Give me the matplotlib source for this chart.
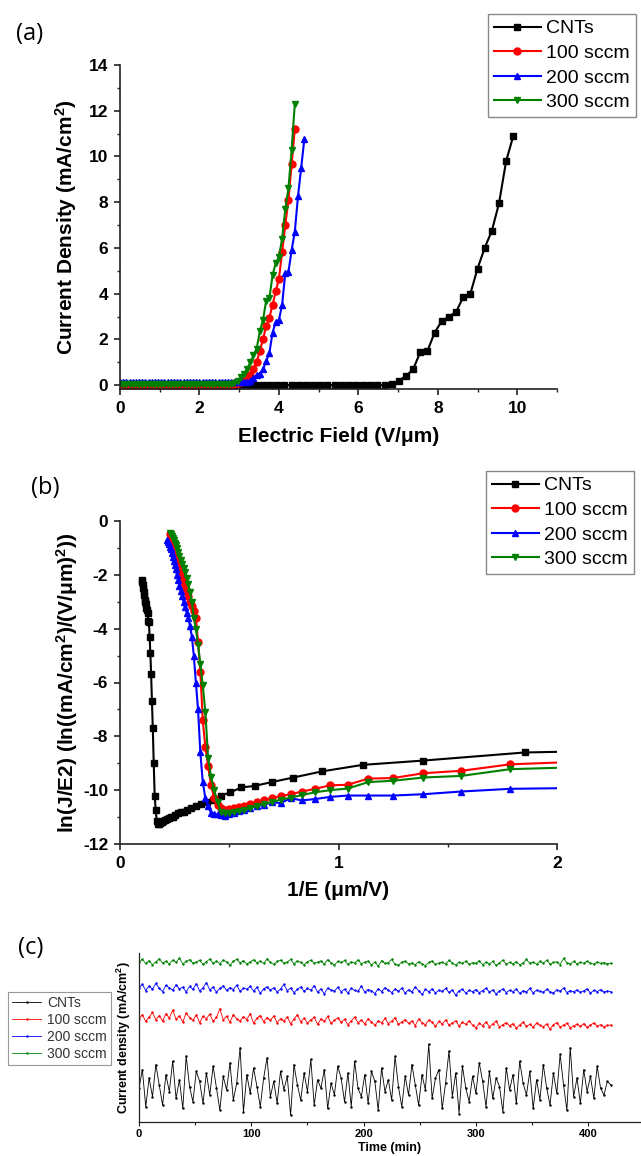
import numpy as np
import matplotlib.pyplot as plt
import matplotlib.font_manager as fm
from matplotlib.ticker import MultipleLocator, NullLocator


def bold_path():
    # pick an Arial-like bold face by file, so the weight is really used
    for name in ['Liberation Sans', 'Arimo', 'Roboto', 'Open Sans', 'Noto Sans', 'Lato']:
        for f in fm.fontManager.ttflist:
            w = f.weight if isinstance(f.weight, int) else fm.weight_dict.get(f.weight, 400)
            if f.name == name and 650 <= w <= 750 and f.style == 'normal':
                return f.fname
    return fm.findfont(fm.FontProperties(family='DejaVu Sans', weight='bold'))


BOLD = bold_path()


def bf(size):
    return fm.FontProperties(fname=BOLD, size=size)


plt.rcParams['font.family'] = ['Liberation Sans', 'DejaVu Sans']
plt.rcParams['mathtext.default'] = 'regular'
plt.rcParams['axes.unicode_minus'] = False

# ---- (a) J-E data ----
E_cnt = np.round(np.arange(0, 9.91, 0.18), 2)
J_cnt = [0.0] * 38 + [0.05, 0.2, 0.4, 0.7, 1.45, 1.5, 2.3, 2.8, 3.0, 3.2,
                      3.85, 4.0, 5.1, 6.0, 6.75, 7.95, 9.8, 10.9]
E_100 = np.round(np.arange(0, 4.41, 0.08), 2)
J_100 = [0.02] * 36 + [0.05, 0.08, 0.12, 0.2, 0.3, 0.45, 0.7, 1.0, 1.5, 2.0,
                       2.6, 2.95, 3.5, 4.1, 4.65, 5.8, 7.0, 8.1, 9.65, 11.2]
E_200 = np.round(np.arange(0, 4.65, 0.08), 2)
J_200 = [0.15] * 40 + [0.15, 0.2, 0.3, 0.45, 0.5, 0.7, 1.05, 1.4, 2.3, 2.75,
                       2.85, 3.5, 4.9, 4.95, 5.9, 6.7, 8.25, 9.5, 10.75]
E_300 = np.round(np.arange(0, 4.41, 0.08), 2)
J_300 = [0.03] * 35 + [0.06, 0.1, 0.2, 0.35, 0.5, 0.7, 1.0, 1.3, 1.6, 2.35, 2.85,
                       3.7, 3.8, 4.8, 5.35, 5.6, 6.4, 7.7, 8.6, 10.3, 12.3]

# ---- (b) F-N data, ln(J/E^2), field ascending ----
ln_cnt = [-8.45, -8.60, -8.90, -9.06, -9.30, -9.53, -9.70, -9.84, -9.90, -10.08,
          -10.20, -10.38, -10.45, -10.52, -10.58, -10.65, -10.72, -10.80, -10.82, -10.86,
          -10.92, -11.00, -11.01, -11.03, -11.06, -11.10, -11.14, -11.18, -11.22, -11.25,
          -11.25, -11.15, -10.75, -10.20, -9.00, -7.70, -6.70, -5.70, -4.90, -4.30,
          -3.75, -3.70, -3.40, -3.30, -3.25, -3.10, -3.00, -2.95, -2.75, -2.62,
          -2.50, -2.37, -2.27, -2.20]
ln_100 = [-8.95, -9.04, -9.28, -9.37, -9.55, -9.57, -9.80, -9.82, -9.95, -10.05,
          -10.15, -10.22, -10.30, -10.38, -10.45, -10.52, -10.58, -10.63, -10.67,
          -10.70, -10.72, -10.68, -10.55, -10.30, -9.80, -9.10, -8.40, -7.40, -5.60, -4.50,
          -3.60, -3.35, -3.15, -3.00, -2.80, -2.60, -2.45, -2.30, -2.15, -2.00,
          -1.85, -1.70, -1.55, -1.40, -1.25, -1.10, -0.95, -0.80, -0.65, -0.50]
ln_200 = [-9.92, -9.95, -10.05, -10.15, -10.20, -10.20, -10.20, -10.25, -10.33, -10.38,
          -10.30, -10.48, -10.45, -10.55, -10.60, -10.65, -10.72, -10.78, -10.85,
          -10.90, -10.95, -10.92, -10.90, -10.90, -10.85, -10.60, -10.30, -9.70, -8.60, -7.00,
          -6.00, -5.00, -4.30, -3.90, -3.60, -3.40, -3.20, -3.00, -2.80, -2.60,
          -2.40, -2.20, -2.00, -1.80, -1.65, -1.50, -1.35, -1.20, -1.05, -0.95,
          -0.85, -0.78, -0.70]
ln_300 = [-9.15, -9.22, -9.47, -9.53, -9.65, -9.70, -9.94, -10.00, -10.08, -10.18,
          -10.28, -10.35, -10.45, -10.52, -10.60, -10.68, -10.74, -10.78, -10.82,
          -10.85, -10.85, -10.80, -10.45, -10.00, -9.50, -8.80, -7.10, -6.10, -5.30, -4.60,
          -4.00, -3.60, -3.00, -2.65, -2.35, -2.10, -1.90, -1.75, -1.60, -1.45,
          -1.30, -1.15, -1.00, -0.90, -0.80, -0.70, -0.62, -0.55, -0.50, -0.45]

# ---- (c) stability data ----
t = np.arange(0, 421, 3)
s_300 = [9.45, 9.62, 9.38, 9.55, 9.30, 9.48, 9.66, 9.41, 9.52, 9.35,
         9.58, 9.44, 9.70, 9.36, 9.50, 9.61, 9.39, 9.47, 9.57, 9.32,
         9.49, 9.64, 9.40, 9.53, 9.37, 9.59, 9.46, 9.28, 9.51, 9.63,
         9.42, 9.55, 9.34, 9.48, 9.60, 9.43, 9.52, 9.38, 9.66, 9.45,
         9.33, 9.50, 9.58, 9.40, 9.47, 9.62, 9.36, 9.54, 9.44, 9.31,
         9.49, 9.57, 9.39, 9.46, 9.53, 9.35, 9.61, 9.42, 9.29, 9.50,
         9.44, 9.56, 9.33, 9.48, 9.40, 9.59, 9.37, 9.45, 9.52, 9.30,
         9.47, 9.22, 9.55, 9.38, 9.43, 9.62, 9.34, 9.28, 9.46, 9.51,
         9.36, 9.42, 9.30, 9.49, 9.37, 9.25, 9.44, 9.53, 9.32, 9.40,
         9.47, 9.35, 9.56, 9.41, 9.29, 9.46, 9.38, 9.52, 9.33, 9.43,
         9.39, 9.55, 9.31, 9.45, 9.37, 9.50, 9.27, 9.42, 9.58, 9.34,
         9.44, 9.36, 9.49, 9.30, 9.41, 9.62, 9.38, 9.46, 9.33, 9.51,
         9.40, 9.57, 9.35, 9.44, 9.48, 9.31, 9.68, 9.42, 9.37, 9.50,
         9.36, 9.45, 9.39, 9.52, 9.41, 9.34, 9.47, 9.38, 9.43, 9.36, 9.40]
s_200 = [7.92, 8.15, 7.78, 8.05, 7.85, 8.20, 7.90, 7.72, 8.08, 7.95,
         7.80, 8.12, 7.88, 7.98, 7.70, 8.02, 7.85, 8.18, 7.76, 7.94,
         8.25, 7.82, 7.99, 7.68, 7.91, 8.06, 7.79, 7.95, 7.84, 8.10,
         7.73, 7.92, 7.86, 8.03, 7.75, 7.97, 7.62, 7.88, 8.00, 7.81,
         7.94, 7.70, 7.87, 8.14, 7.78, 7.92, 7.66, 7.85, 7.99, 7.74,
         7.90, 7.80, 8.06, 7.69, 7.88, 7.58, 7.93, 7.82, 7.75, 7.97,
         7.71, 7.86, 7.64, 7.91, 7.79, 7.73, 8.05, 7.68, 7.84, 7.77,
         7.60, 7.89, 7.72, 7.95, 7.81, 7.66, 7.87, 7.74, 7.92, 7.63,
         7.83, 7.70, 7.98, 7.76, 7.55, 7.85, 7.71, 7.88, 7.64, 7.79,
         7.73, 7.90, 7.67, 7.82, 7.50, 7.77, 7.86, 7.62, 7.80, 7.71,
         7.84, 7.65, 7.78, 7.92, 7.69, 7.81, 7.58, 7.75, 7.88, 7.66,
         7.79, 7.72, 7.86, 7.61, 7.76, 7.70, 7.90, 7.64, 7.80, 7.73,
         7.68, 7.85, 7.71, 7.62, 7.83, 7.74, 7.93, 7.66, 7.78, 7.70,
         7.82, 7.67, 7.76, 7.88, 7.63, 7.79, 7.72, 7.84, 7.69, 7.75, 7.72]
s_100 = [6.10, 6.35, 5.95, 6.22, 6.48, 6.05, 6.30, 5.98, 6.40, 6.15,
         6.62, 6.08, 6.28, 5.92, 6.45, 6.18, 6.02, 6.33, 5.88, 6.25,
         6.12, 6.38, 5.96, 6.20, 6.70, 6.04, 6.26, 5.90, 6.36, 6.10,
         5.98, 6.24, 6.06, 6.42, 5.85, 6.15, 6.30, 5.94, 6.18, 6.02,
         6.28, 5.88, 6.12, 5.97, 6.22, 5.82, 6.08, 6.35, 5.92, 6.14,
         5.86, 6.05, 6.20, 5.78, 6.10, 5.95, 6.26, 5.84, 6.02, 6.16,
         5.90, 6.08, 5.76, 5.98, 6.20, 5.88, 6.04, 5.80, 6.12, 5.94,
         5.72, 6.00, 5.86, 6.14, 5.82, 5.96, 6.18, 5.78, 5.92, 6.06,
         5.84, 5.98, 5.70, 6.10, 5.88, 5.76, 6.02, 5.90, 5.66, 5.95,
         5.80, 6.04, 5.74, 5.86, 5.98, 5.68, 5.90, 5.78, 6.00, 5.72,
         5.58, 5.84, 5.70, 5.92, 5.64, 5.80, 5.96, 5.62, 5.76, 5.88,
         5.70, 5.82, 5.56, 5.74, 5.90, 5.66, 5.78, 5.60, 5.86, 5.72,
         5.64, 5.80, 5.50, 5.76, 5.88, 5.62, 5.74, 5.84, 5.58, 5.70,
         5.78, 5.66, 5.82, 5.60, 5.74, 5.86, 5.68, 5.76, 5.64, 5.72, 5.74]
s_cnt = [2.0, 3.1, 0.9, 2.6, 1.5, 3.4, 2.2, 1.0, 2.8, 1.8,
         3.6, 1.4, 2.5, 0.8, 3.9, 2.1, 1.2, 3.0, 2.4, 1.1,
         2.9, 1.6, 3.3, 2.0, 0.7, 2.7, 1.9, 3.5, 1.3, 2.3,
         4.4, 0.6, 2.8, 1.7, 3.2, 2.1, 0.9, 2.6, 3.8, 1.5,
         2.4, 1.1, 3.0, 1.9, 2.7, 0.4, 3.4, 2.2, 1.3, 2.9,
         1.8, 3.7, 1.0, 2.5, 2.0, 3.1, 0.8, 2.3, 1.6, 3.3,
         2.6, 1.2, 2.9, 0.9, 3.6, 2.0, 1.5, 2.8, 1.1, 3.0,
         2.4, 0.7, 3.2, 1.8, 2.5, 1.3, 3.9, 2.1, 0.9, 2.7,
         1.6, 3.4, 2.2, 1.0, 2.8, 1.9, 4.6, 1.4, 2.6, 3.1,
         0.8, 2.3, 4.2, 1.5, 2.9, 0.5, 3.3, 2.0, 1.2, 2.7,
         1.7, 3.5, 2.4, 0.9, 3.0, 1.4, 2.6, 2.1, 0.6, 3.2,
         1.9, 2.8, 1.1, 3.6, 2.3, 1.6, 3.0, 0.8, 2.5, 1.3,
         3.4, 2.0, 1.0, 2.9, 1.7, 4.0, 2.2, 0.7, 4.4, 1.5,
         2.6, 1.1, 3.1, 1.8, 2.7, 1.4, 3.3, 2.0, 1.6, 2.4, 2.2]

labels = ['CNTs', '100 sccm', '200 sccm', '300 sccm']
colors = ['black', '#ff0000', '#0000ff', '#008000']
markers = ['s', 'o', '^', 'v']

W, H = 641, 1156
fig = plt.figure(figsize=(W / 100, H / 100), dpi=100)


def ax_at(l, t, r, b):
    return fig.add_axes([l / W, 1 - b / H, (r - l) / W, (b - t) / H])


def style(ax):
    for s in ['top', 'right']:
        ax.spines[s].set_visible(False)
    for s in ['left', 'bottom']:
        ax.spines[s].set_linewidth(1.2)
        ax.spines[s].set_color('#222222')
    ax.tick_params(which='major', direction='out', length=4.5, width=1.2,
                   color='#222222', pad=4)
    ax.tick_params(which='minor', direction='out', length=2.5, width=1.0, color='#222222')


def bold_ticks(ax, size):
    fig.canvas.draw()
    for lab in ax.get_xticklabels() + ax.get_yticklabels():
        lab.set_fontproperties(bf(size))


def legend_at(ax, x, y, size, **kw):
    leg = ax.legend(loc='upper left', bbox_to_anchor=(x / W, 1 - y / H),
                    bbox_transform=fig.transFigure, borderaxespad=0,
                    prop={'size': size}, fancybox=False, framealpha=1, **kw)
    return leg


# (a)
ax1 = ax_at(120, 65, 557, 389)
series_a = [(E_cnt, J_cnt), (E_100, J_100), (E_200, J_200), (E_300, J_300)]
for (x, y), lab, c, m in zip(series_a, labels, colors, markers):
    ax1.plot(x, y, color=c, marker=m, ms=5, lw=1.5, label=lab)
ax1.set_xlim(0, 11)
ax1.set_ylim(-0.17, 14)
ax1.xaxis.set_major_locator(MultipleLocator(2))
ax1.xaxis.set_minor_locator(MultipleLocator(1))
ax1.yaxis.set_major_locator(MultipleLocator(2))
ax1.yaxis.set_minor_locator(MultipleLocator(1))
style(ax1)
ax1.set_xlabel('Electric Field (V/μm)', fontproperties=bf(15), labelpad=8)
ax1.set_ylabel('Current Density (mA/cm$^2$)', fontproperties=bf(15), labelpad=7)
leg = legend_at(ax1, 488, 14, 14, edgecolor='#888888', borderpad=0.3,
                labelspacing=0.36, handlelength=2.4, handletextpad=0.3)
leg.get_frame().set_linewidth(1.0)

# (b)
ax2 = ax_at(120, 521, 557, 844)
series_b = [(1 / E_cnt[2:], ln_cnt), (1 / E_100[6:], ln_100),
            (1 / E_200[6:], ln_200), (1 / E_300[6:], ln_300)]
for (x, y), lab, c, m in zip(series_b, labels, colors, markers):
    ax2.plot(x, y, color=c, marker=m, ms=5, lw=1.5, label=lab)
ax2.set_xlim(0, 2)
ax2.set_ylim(-12, 0)
ax2.xaxis.set_major_locator(MultipleLocator(1))
ax2.xaxis.set_minor_locator(MultipleLocator(0.5))
ax2.yaxis.set_major_locator(MultipleLocator(2))
ax2.yaxis.set_minor_locator(MultipleLocator(1))
style(ax2)
ax2.set_xlabel('1/E (μm/V)', fontproperties=bf(15), labelpad=7)
ax2.set_ylabel('ln(J/E2) (ln((mA/cm$^2$)/(V/μm)$^2$))', fontproperties=bf(15), labelpad=2)
leg = legend_at(ax2, 486, 471, 14, edgecolor='#888888', borderpad=0.3,
                labelspacing=0.36, handlelength=2.4, handletextpad=0.3)
leg.get_frame().set_linewidth(1.0)

# (c)
ax3 = ax_at(139, 953, 641, 1122)
series_c = [s_cnt, s_100, s_200, s_300]
for y, lab, c in zip(series_c, labels, colors):
    ax3.plot(t, y, color=c, marker='.', ms=1.5, lw=0.6, label=lab)
ax3.set_xlim(0, 447)
ax3.set_ylim(0, 10)
ax3.xaxis.set_major_locator(MultipleLocator(100))
ax3.xaxis.set_minor_locator(MultipleLocator(50))
ax3.yaxis.set_major_locator(NullLocator())
style(ax3)
ax3.tick_params(which='major', length=3, width=0.8, pad=2)
ax3.tick_params(which='minor', length=2, width=0.8)
for s in ['left', 'bottom']:
    ax3.spines[s].set_linewidth(0.9)
ax3.set_xlabel('Time (min)', fontproperties=bf(9), labelpad=2)
ax3.set_ylabel('Current density (mA/cm$^2$)', fontproperties=bf(9), labelpad=4)
leg = legend_at(ax3, 8, 992, 10, labelcolor='#333333', edgecolor='#999999',
                borderpad=0.3, labelspacing=0.2, handlelength=2.1, handletextpad=0.4)
leg.get_frame().set_linewidth(0.8)

bold_ticks(ax1, 12.5)
bold_ticks(ax2, 12.5)
bold_ticks(ax3, 8)

for x, y, s in [(30, 34, '(a)'), (45, 488, '(b)'), (31, 948, '(c)')]:
    fig.text(x / W, 1 - y / H, s, fontsize=17,
             family=['Open Sans', 'DejaVu Sans'], ha='center', va='center')

fig.savefig('out.png', dpi=100)
